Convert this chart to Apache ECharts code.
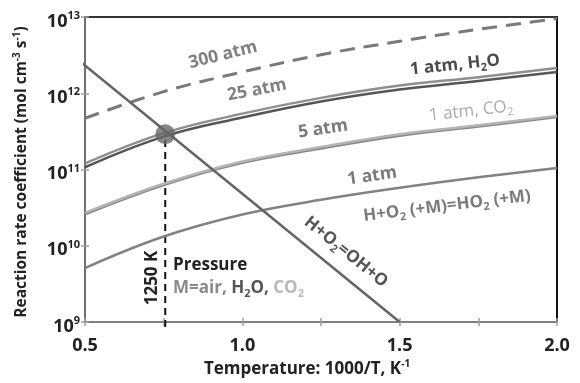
<!DOCTYPE html>
<html>
<head>
<meta charset="utf-8">
<script src="https://cdn.jsdelivr.net/npm/echarts@6/dist/echarts.min.js"></script>
<style>
  html, body { margin: 0; padding: 0; background: #fff; }
  #chart { width: 580px; height: 383px; }
</style>
</head>
<body>
<div id="chart"></div>
<script>
// Inverse temperature grid, 1000/T (K^-1)
const invT = [0.5, 0.75, 1.0, 1.25, 1.5, 1.75, 2.0];

// H + O2 (+M) = HO2 (+M), rate coefficient in mol cm^-3 s^-1
const kAir300 = [4.7e11, 1.05e12, 1.9e12, 3.2e12, 4.8e12, 6.9e12, 9.5e12];
const kAir25  = [1.2e11, 3.0e11, 5.4e11, 8.7e11, 1.26e12, 1.62e12, 2.14e12];
const kH2O1   = [1.07e11, 2.7e11, 4.8e11, 7.8e11, 1.12e12, 1.45e12, 1.9e12];
const kAir5   = [2.6e10, 6.3e10, 1.23e11, 1.9e11, 2.8e11, 3.7e11, 4.9e11];
const kCO21   = [2.7e10, 6.5e10, 1.27e11, 1.97e11, 2.9e11, 3.8e11, 5.05e11];
const kAir1   = [5.1e9, 1.32e10, 2.57e10, 4.0e10, 5.75e10, 7.9e10, 1.05e11];

// H + O2 = OH + O (straight Arrhenius line)
const branchX = [0.475, 1.5];
const branchK = [2.8e12, 1.0e9];

// Crossover point and its guide line down to the axis
const crossX = 0.755;
const crossK = 2.9e11;
const guideK = [8.6e8, 2.9e11];

const xTicks = [0.5, 1.0, 1.5, 2.0];

const FONT = '"Open Sans"';
const pair = (xs, ys) => xs.map((x, i) => [x, ys[i]]);

const chart = echarts.init(document.getElementById('chart'), null, { renderer: 'canvas' });

function curve(name, ys, color, width, extra) {
  return Object.assign({
    name, type: 'line', data: pair(invT, ys), smooth: 0.4,
    showSymbol: false, symbol: 'none',
    lineStyle: { color, width }, z: 3
  }, extra || {});
}

function label(text, x, y, deg, color, weight, rich, align, size) {
  return {
    type: 'text', x, y, rotation: deg * Math.PI / 180, z: 20,
    style: {
      text, fill: color, fontFamily: FONT, fontSize: size || 17, fontWeight: weight,
      align: align || 'center', verticalAlign: 'middle', lineHeight: 22,
      rich: rich || {}
    }
  };
}
const sub = (color, weight) => ({
  fill: color, fontFamily: FONT, fontSize: 11, fontWeight: weight,
  verticalAlign: 'bottom', lineHeight: 14
});
const supStyle = { fill: '#222', fontFamily: FONT, fontSize: 10, fontWeight: 'bold', verticalAlign: 'top', lineHeight: 11 };

const option = {
  animation: false,
  backgroundColor: '#fff',
  grid: { left: 85, right: 23, top: 17, bottom: 61 },
  xAxis: [
    {
      type: 'value', min: 0.5, max: 2.0, interval: 0.25, position: 'bottom',
      axisLine: { show: true, lineStyle: { color: '#808080', width: 2 } },
      axisTick: { show: true, length: 4, lineStyle: { color: '#a0a0a0', width: 1.5 } },
      splitLine: { show: false },
      axisLabel: {
        margin: 15, color: '#222', fontFamily: FONT, fontWeight: 'bold', fontSize: 18,
        formatter: v => xTicks.some(t => Math.abs(t - v) < 1e-9) ? v.toFixed(1) : ''
      }
    },
    {
      type: 'value', min: 0.5, max: 2.0, interval: 0.25, position: 'top',
      axisLine: { show: true, lineStyle: { color: '#333', width: 2 } },
      axisTick: { show: false }, axisLabel: { show: false }, splitLine: { show: false }
    },
    {
      type: 'value', min: 0.5, max: 2.0, interval: 0.25, position: 'bottom', offset: 0,
      axisLine: { show: false },
      axisTick: { show: true, inside: true, length: 4, lineStyle: { color: '#a0a0a0', width: 1.5 } },
      axisLabel: { show: false }, splitLine: { show: false }
    }
  ],
  yAxis: [
    {
      type: 'log', logBase: 10, min: 1e9, max: 1e13, position: 'left',
      axisLine: { show: true, lineStyle: { color: '#707070', width: 2 } },
      axisTick: { show: true, length: 4, lineStyle: { color: '#a0a0a0', width: 1.5 } },
      splitLine: { show: false },
      axisLabel: {
        margin: 5, padding: [9, 0, 0, 0],
        formatter: v => '{b|10}{s|' + Math.round(Math.log10(v)) + '}',
        rich: {
          b: { fontFamily: FONT, fontWeight: 'bold', fontSize: 18, color: '#222', lineHeight: 22 },
          s: { fontFamily: FONT, fontWeight: 'bold', fontSize: 11, color: '#222', verticalAlign: 'top', lineHeight: 12 }
        }
      }
    },
    {
      type: 'log', logBase: 10, min: 1e9, max: 1e13, position: 'right',
      axisLine: { show: true, lineStyle: { color: '#111', width: 2 } },
      axisTick: { show: false }, axisLabel: { show: false }, splitLine: { show: false }
    },
    {
      type: 'log', logBase: 10, min: 1e9, max: 1e13, position: 'left', offset: 0,
      axisLine: { show: false },
      axisTick: { show: true, inside: true, length: 4, lineStyle: { color: '#a0a0a0', width: 1.5 } },
      axisLabel: { show: false }, splitLine: { show: false }
    }
  ],
  series: [
    curve('300 atm', kAir300, '#7a7a7a', 3, { lineStyle: { color: '#7a7a7a', width: 3, type: [15, 9] } }),
    curve('25 atm', kAir25, '#8e8e8e', 2.5),
    curve('1 atm, H2O', kH2O1, '#555', 2.5),
    curve('5 atm', kAir5, '#888', 3),
    curve('1 atm, CO2', kCO21, '#b4b4b4', 2.5),
    curve('1 atm', kAir1, '#828282', 2.5),
    {
      name: 'H+O2=OH+O', type: 'line', data: pair(branchX, branchK), clip: false,
      showSymbol: false, symbol: 'none', lineStyle: { color: '#646464', width: 2.5 }, z: 4
    },
    {
      name: '1250 K', type: 'line', data: [[crossX, guideK[0]], [crossX, guideK[1]]], clip: false,
      showSymbol: false, symbol: 'none', lineStyle: { color: '#111', width: 2, type: [7, 5] }, z: 2
    },
    {
      name: 'crossover', type: 'scatter', data: [[crossX, crossK]], symbolSize: 20,
      itemStyle: { color: '#666' }, z: 6
    }
  ],
  graphic: [
    // axis titles
    {
      type: 'text', x: 22, y: 172, rotation: Math.PI / 2, z: 20,
      style: {
        text: 'Reaction rate coefficient (mol cm{s|-3} s{s|-1})',
        fill: '#222', fontFamily: FONT, fontSize: 15.5, fontWeight: 'bold',
        align: 'center', verticalAlign: 'middle', lineHeight: 20,
        rich: { s: supStyle }
      }
    },
    {
      type: 'text', x: 307, y: 369, z: 20,
      style: {
        text: 'Temperature: 1000/T, K{s|-1}',
        fill: '#222', fontFamily: FONT, fontSize: 17, fontWeight: 'bold',
        align: 'center', verticalAlign: 'middle', lineHeight: 20,
        rich: { s: supStyle }
      }
    },
    // curve labels
    label('300 atm', 223, 55, 14, '#808080', 'bold', null, null, 17.5),
    label('25 atm', 257, 90, 11, '#808080', 'bold', null, null, 17.5),
    label('1 atm, H{s|2}O', 455, 65, 6, '#4a4a4a', 'bold', { s: sub('#4a4a4a', 'bold') }),
    label('1 atm, CO{s|2}', 471, 111, 6.5, '#aaaaaa', 'normal', { s: sub('#aaaaaa', 'normal') }),
    label('5 atm', 323, 129, 8, '#7a7a7a', 'bold', null, null, 17.5),
    label('1 atm', 372, 176, 8, '#7a7a7a', 'bold', null, null, 17.5),
    label('H+O{s|2} (+M)=HO{s|2} (+M)', 447, 206, 7, '#7a7a7a', 'bold', { s: sub('#7a7a7a', 'bold') }),
    label('H+O{s|2}=OH+O', 346, 252, -39, '#555', 'bold', { s: sub('#555', 'bold') }),
    label('1250 K', 152, 278, 90, '#222', 'bold'),
    label('Pressure', 173, 265, 0, '#222', 'bold', null, 'left'),
    label('{a|M=air, }{h|H}{hs|2}{h|O, }{c|CO}{cs|2}', 173, 288, 0, '#888', 'bold', {
      a: { fill: '#8a8a8a', fontFamily: FONT, fontSize: 17, fontWeight: 'bold', lineHeight: 22 },
      h: { fill: '#555', fontFamily: FONT, fontSize: 17, fontWeight: 'bold', lineHeight: 22 },
      hs: sub('#555', 'bold'),
      c: { fill: '#b8b8b8', fontFamily: FONT, fontSize: 17, fontWeight: 'bold', lineHeight: 22 },
      cs: sub('#b8b8b8', 'bold')
    }, 'left')
  ]
};

chart.setOption(option);
</script>
</body>
</html>
